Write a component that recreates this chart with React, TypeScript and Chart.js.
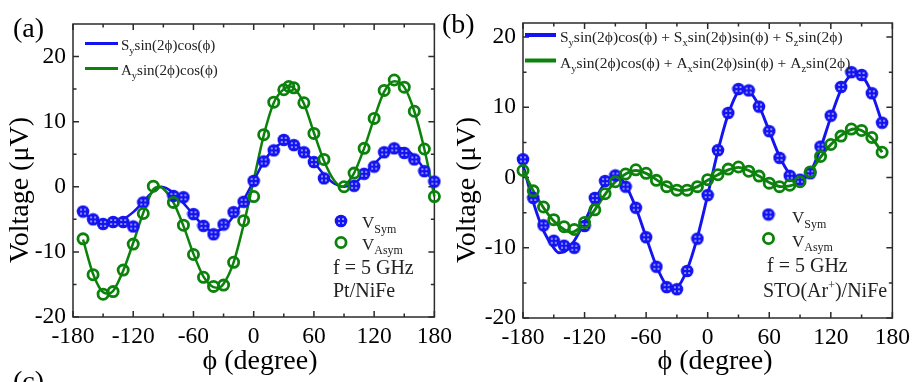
import React, { useEffect, useRef } from "react";
import { Chart, registerables } from "chart.js";
Chart.register(...registerables);

const FONT = "'Liberation Serif', 'DejaVu Serif', serif";
const BLUE = "#1414f0";
const GREEN = "#0c820c";
const FRAME = "#2b2b2b";

// ---- ticks ----
const xTicks = [-180, -120, -60, 0, 60, 120, 180];
const xMinorTicks = [-150, -90, -30, 30, 90, 150];
const yTicks = [-20, -10, 0, 10, 20];
const yMinorTicks = [-15, -5, 5, 15];

// ---- panel (a): Pt/NiFe ----
const aSymX = [-170, -160, -150, -140, -130, -120, -110, -80, -70, -60, -50, -40, -30, -20, -10, 0, 10, 20, 30, 40, 50, 60, 70, 100, 110, 120, 130, 140, 150, 160, 170, 180];
const aSymY = [-3.8, -5.0, -5.7, -5.4, -5.4, -6.1, -2.4, -1.4, -1.6, -4.2, -6.0, -7.3, -5.8, -3.9, -2.3, 0.9, 3.9, 5.6, 7.2, 6.4, 5.3, 3.8, 1.3, 0.15, 2.0, 3.1, 5.3, 5.9, 5.2, 4.2, 2.4, 0.8];
const aAsymX = [-170, -160, -150, -140, -130, -120, -110, -100, -80, -70, -60, -50, -40, -30, -20, -10, 0, 10, 20, 30, 35, 40, 50, 60, 70, 90, 100, 110, 120, 130, 140, 150, 160, 170, 180];
const aAsymY = [-8.0, -13.5, -16.5, -16.1, -12.8, -8.8, -4.1, 0.1, -2.4, -5.9, -10.4, -13.9, -15.3, -15.1, -11.6, -5.2, -1.5, 8.0, 13.0, 14.9, 15.4, 15.2, 12.9, 8.2, 4.2, 0.0, 2.1, 5.9, 10.5, 14.8, 16.4, 15.3, 11.6, 5.8, -1.5];
const aSymFitX = [-170, -160, -150, -140, -130, -120, -110, -100, -92, -80, -70, -60, -50, -40, -30, -20, -10, 0, 10, 20, 32, 40, 50, 60, 70, 80, 90, 100, 110, 120, 130, 142, 150, 160, 170, 180];
const aSymFitY = [-4.0, -5.0, -5.6, -5.6, -5.0, -3.9, -2.3, -0.7, 0.0, -0.9, -2.5, -4.3, -6.0, -6.9, -6.3, -4.5, -2.0, 0.9, 3.8, 5.8, 6.9, 6.6, 5.5, 3.8, 1.9, 0.5, 0.0, 0.5, 1.9, 3.5, 5.0, 5.95, 5.8, 4.7, 2.7, 0.6];
const aAsymFitX = [-170, -160, -150, -145, -140, -130, -120, -110, -100, -94, -90, -80, -70, -60, -50, -40, -35, -30, -20, -10, 0, 10, 20, 30, 37, 40, 50, 60, 70, 80, 88, 90, 100, 110, 120, 130, 140, 150, 160, 170, 180];
const aAsymFitY = [-8.1, -13.4, -16.2, -16.4, -16.0, -12.9, -8.6, -4.0, -0.4, 0.0, -0.3, -2.4, -6.0, -10.3, -13.8, -15.4, -15.5, -14.9, -11.6, -5.8, 1.0, 7.9, 12.9, 15.0, 15.4, 15.2, 12.8, 8.3, 4.0, 1.0, 0.0, 0.1, 2.1, 5.9, 10.5, 14.6, 16.2, 15.3, 11.6, 5.8, -1.5];

// ---- panel (b): STO(Ar+)/NiFe ----
const bSymX = [-180, -170, -160, -150, -140, -130, -120, -110, -100, -90, -80, -70, -60, -50, -40, -30, -20, -10, 0, 10, 20, 30, 40, 50, 60, 70, 80, 90, 100, 110, 120, 130, 140, 150, 160, 170];
const bSymY = [2.6, -2.9, -6.8, -9.0, -9.7, -10.0, -6.9, -2.9, -0.5, 0.3, -1.3, -4.3, -8.5, -12.7, -15.6, -15.9, -13.3, -8.7, -2.5, 3.9, 9.2, 12.6, 12.4, 10.1, 6.6, 2.8, 0.25, -0.3, 0.6, 4.4, 8.8, 12.9, 15.0, 14.6, 12.0, 7.8];
const bAsymX = [-180, -170, -160, -150, -140, -130, -120, -110, -100, -90, -80, -70, -60, -50, -40, -30, -20, -10, 0, 10, 20, 30, 40, 50, 60, 70, 80, 90, 100, 110, 120, 130, 140, 150, 160, 170];
const bAsymY = [1.0, -1.9, -4.2, -6.0, -7.0, -7.4, -6.4, -4.6, -2.3, -0.6, 0.5, 1.1, 0.6, -0.4, -1.3, -1.8, -1.8, -1.3, -0.3, 0.4, 1.2, 1.5, 0.9, 0.2, -0.8, -1.3, -1.1, -0.6, 0.8, 3.0, 4.7, 5.9, 6.9, 6.7, 5.7, 3.6];
const bSymFitX = [-180, -170, -160, -150, -145, -140, -130, -120, -110, -100, -90, -80, -70, -60, -50, -40, -35, -30, -20, -10, 0, 10, 20, 30, 35, 40, 50, 60, 70, 80, 90, 100, 110, 120, 130, 140, 145, 150, 160, 170];
const bSymFitY = [1.8, -3.5, -7.6, -10.0, -10.7, -10.6, -9.0, -6.3, -3.2, -0.8, 0.3, -1.1, -4.3, -8.5, -12.6, -15.4, -15.9, -15.7, -13.1, -8.5, -2.5, 3.8, 9.0, 12.3, 12.7, 12.4, 10.2, 6.6, 3.0, 0.5, -0.3, 0.8, 4.2, 8.6, 12.5, 14.7, 15.0, 14.6, 12.0, 7.8];
const bAsymFitX = [-180, -170, -160, -150, -140, -133, -130, -120, -110, -100, -90, -80, -70, -60, -50, -40, -25, -20, -10, 0, 10, 20, 30, 40, 50, 60, 72, 80, 90, 100, 110, 120, 130, 143, 150, 160, 170];
const bAsymFitY = [1.0, -1.9, -4.3, -6.2, -7.4, -7.8, -7.7, -6.6, -4.6, -2.4, -0.6, 0.5, 1.0, 0.6, -0.3, -1.2, -1.85, -1.8, -1.3, -0.4, 0.4, 1.1, 1.45, 1.0, 0.2, -0.7, -1.3, -1.2, -0.6, 0.8, 2.9, 4.7, 6.0, 6.9, 6.7, 5.6, 3.6];

type Seg = { t: string; k?: "sub" | "sup" };

const zip = (xs: number[], ys: number[]) => xs.map((x, i) => ({ x, y: ys[i] }));

function drawRich(ctx: CanvasRenderingContext2D, segs: Seg[], x: number, baseline: number, size: number, subSize?: number) {
  let cx = x;
  ctx.textBaseline = "alphabetic";
  ctx.textAlign = "left";
  for (const s of segs) {
    const fs = s.k ? subSize ?? size * 0.68 : size;
    ctx.font = `${fs}px ${FONT}`;
    const dy = s.k === "sub" ? size * 0.27 : s.k === "sup" ? -size * 0.4 : 0;
    ctx.fillText(s.t, cx, baseline + dy);
    cx += ctx.measureText(s.t).width;
  }
}

function makeBlueMarker(): HTMLCanvasElement {
  const c = document.createElement("canvas");
  c.width = 14;
  c.height = 14;
  const g = c.getContext("2d")!;
  g.fillStyle = BLUE;
  g.beginPath();
  g.arc(7, 7, 6.3, 0, Math.PI * 2);
  g.fill();
  g.fillStyle = "#ffffff";
  for (const [dx, dy] of [[-2, -2], [2, -2], [-2, 2], [2, 2]]) {
    g.beginPath();
    g.arc(7 + dx, 7 + dy, 0.85, 0, Math.PI * 2);
    g.fill();
  }
  return c;
}

interface Panel {
  width: number;
  left: number;
  yMax: number;
  padTop: number;
  padRight: number;
  yWidth: number;
  xHeight: number;
  symX: number[]; symY: number[];
  asymX: number[]; asymY: number[];
  symFitX: number[]; symFitY: number[];
  asymFitX: number[]; asymFitY: number[];
  fitW: number;
  labels: { t: string; x: number; y: number }[];
  yTitle: [number, number];
  xTitle: [number, number];
  legLineX: [number, number];
  legLineY: [number, number];
  legLineW: number;
  legTextX: number;
  legBase: [number, number];
  legSize: number;
  legSym: Seg[];
  legAsym: Seg[];
  mkX: number;
  mkY: [number, number];
  vX: number;
  vBase: [number, number];
  notes: { segs: Seg[]; x: number; b: number }[];
}

const phi = "\u03D5";

const panelA: Panel = {
  width: 458, left: 0, yMax: 25, padTop: 24, padRight: 21, yWidth: 73, xHeight: 65,
  symX: aSymX, symY: aSymY, asymX: aAsymX, asymY: aAsymY,
  symFitX: aSymFitX, symFitY: aSymFitY, asymFitX: aAsymFitX, asymFitY: aAsymFitY,
  fitW: 2.5,
  labels: [{ t: "(a)", x: 13, y: 37 }, { t: "(c)", x: 13, y: 390 }],
  yTitle: [21, 190],
  xTitle: [260, 362],
  legLineX: [85, 118], legLineY: [43.5, 68.5], legLineW: 2.8,
  legTextX: 121, legBase: [50, 75], legSize: 15,
  legSym: [{ t: "S" }, { t: "y", k: "sub" }, { t: `sin(2${phi})cos(${phi})` }],
  legAsym: [{ t: "A" }, { t: "y", k: "sub" }, { t: `sin(2${phi})cos(${phi})` }],
  mkX: 341, mkY: [221, 242.5], vX: 362, vBase: [228, 249.5],
  notes: [
    { segs: [{ t: "f = 5 GHz" }], x: 333, b: 274 },
    { segs: [{ t: "Pt/NiFe" }], x: 333, b: 297 },
  ],
};

const panelB: Panel = {
  width: 480, left: 436, yMax: 22, padTop: 23, padRight: 18, yWidth: 87, xHeight: 64,
  symX: bSymX, symY: bSymY, asymX: bAsymX, asymY: bAsymY,
  symFitX: bSymFitX, symFitY: bSymFitY, asymFitX: bAsymFitX, asymFitY: bAsymFitY,
  fitW: 2.9,
  labels: [{ t: "(b)", x: 6, y: 33 }],
  yTitle: [32, 190],
  xTitle: [279, 362],
  legLineX: [89, 120], legLineY: [35, 60.5], legLineW: 4,
  legTextX: 124, legBase: [42, 67.5], legSize: 15.5,
  legSym: [
    { t: "S" }, { t: "y", k: "sub" }, { t: `sin(2${phi})cos(${phi}) + S` }, { t: "x", k: "sub" },
    { t: `sin(2${phi})sin(${phi}) + S` }, { t: "z", k: "sub" }, { t: `sin(2${phi})` },
  ],
  legAsym: [
    { t: "A" }, { t: "y", k: "sub" }, { t: `sin(2${phi})cos(${phi}) + A` }, { t: "x", k: "sub" },
    { t: `sin(2${phi})sin(${phi}) + A` }, { t: "z", k: "sub" }, { t: `sin(2${phi})` },
  ],
  mkX: 332.5, mkY: [214.5, 238.5], vX: 356, vBase: [223, 246.5],
  notes: [
    { segs: [{ t: "f = 5 GHz" }], x: 331, b: 272 },
    { segs: [{ t: "STO(Ar" }, { t: "+", k: "sup" }, { t: ")/NiFe" }], x: 327, b: 297 },
  ],
};

function makeChart(canvas: HTMLCanvasElement, p: Panel, marker: HTMLCanvasElement) {
  const decor = {
    id: "decor",
    beforeDatasetsDraw(chart: any) {
      const { ctx, chartArea: a, scales } = chart;
      const xs = scales.x;
      const ys = scales.y;
      ctx.save();
      ctx.strokeStyle = FRAME;
      ctx.lineWidth = 1.5;
      ctx.strokeRect(a.left, a.top, a.right - a.left, a.bottom - a.top);
      ctx.beginPath();
      const xt = (vals: number[], len: number) => {
        for (const v of vals) {
          const px = xs.getPixelForValue(v);
          ctx.moveTo(px, a.bottom);
          ctx.lineTo(px, a.bottom - len);
          ctx.moveTo(px, a.top);
          ctx.lineTo(px, a.top + len);
        }
      };
      const yt = (vals: number[], len: number) => {
        for (const v of vals) {
          const py = ys.getPixelForValue(v);
          ctx.moveTo(a.left, py);
          ctx.lineTo(a.left + len, py);
          ctx.moveTo(a.right, py);
          ctx.lineTo(a.right - len, py);
        }
      };
      xt(xTicks, 6);
      xt(xMinorTicks, 3.5);
      yt(yTicks, 6);
      yt(yMinorTicks, 3.5);
      ctx.stroke();
      ctx.restore();
    },
    afterDraw(chart: any) {
      const ctx: CanvasRenderingContext2D = chart.ctx;
      ctx.save();
      ctx.fillStyle = "#000";
      ctx.font = `28px ${FONT}`;
      ctx.textBaseline = "alphabetic";
      ctx.textAlign = "left";
      for (const l of p.labels) ctx.fillText(l.t, l.x, l.y);
      ctx.font = `28px ${FONT}`;
      ctx.textAlign = "center";
      ctx.textBaseline = "middle";
      ctx.fillText(`${phi} (degree)`, p.xTitle[0], p.xTitle[1]);
      ctx.save();
      ctx.translate(p.yTitle[0], p.yTitle[1]);
      ctx.rotate(-Math.PI / 2);
      ctx.fillText("Voltage (\u03BCV)", 0, 0);
      ctx.restore();
      ctx.lineWidth = p.legLineW;
      ctx.strokeStyle = BLUE;
      ctx.beginPath();
      ctx.moveTo(p.legLineX[0], p.legLineY[0]);
      ctx.lineTo(p.legLineX[1], p.legLineY[0]);
      ctx.stroke();
      ctx.strokeStyle = GREEN;
      ctx.beginPath();
      ctx.moveTo(p.legLineX[0], p.legLineY[1]);
      ctx.lineTo(p.legLineX[1], p.legLineY[1]);
      ctx.stroke();
      ctx.fillStyle = "#222";
      drawRich(ctx, p.legSym, p.legTextX, p.legBase[0], p.legSize, 10.5);
      drawRich(ctx, p.legAsym, p.legTextX, p.legBase[1], p.legSize, 10.5);
      ctx.drawImage(marker, p.mkX - marker.width / 2, p.mkY[0] - marker.height / 2);
      ctx.strokeStyle = GREEN;
      ctx.lineWidth = 2.8;
      ctx.beginPath();
      ctx.arc(p.mkX, p.mkY[1], 5.1, 0, Math.PI * 2);
      ctx.stroke();
      ctx.fillStyle = "#222";
      drawRich(ctx, [{ t: "V" }, { t: "Sym", k: "sub" }], p.vX, p.vBase[0], 17, 12);
      drawRich(ctx, [{ t: "V" }, { t: "Asym", k: "sub" }], p.vX, p.vBase[1], 17, 12);
      for (const n of p.notes) drawRich(ctx, n.segs, n.x, n.b, 20, 12);
      ctx.restore();
    },
  };

  return new Chart(canvas, {
    type: "scatter",
    data: {
      datasets: [
        {
          label: "V_Asym",
          data: zip(p.asymX, p.asymY),
          showLine: false,
          pointStyle: "circle",
          pointRadius: 5.1,
          pointBorderWidth: 2.8,
          pointBorderColor: GREEN,
          pointBackgroundColor: "rgba(0,0,0,0)",
          clip: false,
          order: 0,
        } as any,
        {
          label: "V_Sym",
          data: zip(p.symX, p.symY),
          showLine: false,
          pointStyle: marker,
          pointRadius: 6.5,
          clip: false,
          order: 1,
        } as any,
        {
          label: "A fit",
          data: zip(p.asymFitX, p.asymFitY),
          showLine: true,
          borderColor: GREEN,
          borderWidth: p.fitW,
          pointRadius: 0,
          cubicInterpolationMode: "monotone",
          clip: false,
          order: 2,
        } as any,
        {
          label: "S fit",
          data: zip(p.symFitX, p.symFitY),
          showLine: true,
          borderColor: BLUE,
          borderWidth: p.fitW,
          pointRadius: 0,
          cubicInterpolationMode: "monotone",
          clip: false,
          order: 3,
        } as any,
      ],
    },
    options: {
      animation: false,
      responsive: false,
      devicePixelRatio: 1,
      events: [],
      layout: { padding: { left: 0, top: p.padTop, right: p.padRight, bottom: 0 } },
      plugins: { legend: { display: false }, tooltip: { enabled: false } },
      scales: {
        x: {
          type: "linear",
          min: -180,
          max: 180,
          afterBuildTicks: (s: any) => {
            s.ticks = xTicks.map((v) => ({ value: v }));
          },
          afterFit: (s: any) => {
            s.height = p.xHeight;
          },
          grid: { display: false, drawTicks: false },
          border: { display: false },
          ticks: {
            font: { family: FONT, size: 23.5 },
            color: "#000",
            padding: 6,
            maxRotation: 0,
            autoSkip: false,
            callback: (v: any) => String(v),
          },
        },
        y: {
          type: "linear",
          min: -20,
          max: p.yMax,
          afterBuildTicks: (s: any) => {
            s.ticks = yTicks.map((v) => ({ value: v }));
          },
          afterFit: (s: any) => {
            s.width = p.yWidth;
          },
          grid: { display: false, drawTicks: false },
          border: { display: false },
          ticks: {
            font: { family: FONT, size: 23.5 },
            color: "#000",
            padding: 7,
            autoSkip: false,
            callback: (v: any) => String(v),
          },
        },
      },
    },
    plugins: [decor],
  } as any);
}

export default function App() {
  const refA = useRef<HTMLCanvasElement>(null);
  const refB = useRef<HTMLCanvasElement>(null);
  useEffect(() => {
    const marker = makeBlueMarker();
    const ca = makeChart(refA.current!, panelA, marker);
    const cb = makeChart(refB.current!, panelB, marker);
    return () => {
      ca.destroy();
      cb.destroy();
    };
  }, []);
  return (
    <div style={{ position: "fixed", left: 0, top: 0, width: 916, height: 382, overflow: "hidden", background: "#fff" }}>
      <canvas ref={refA} width={panelA.width} height={382}
        style={{ position: "absolute", left: panelA.left, top: 0, width: panelA.width, height: 382 }} />
      <canvas ref={refB} width={panelB.width} height={382}
        style={{ position: "absolute", left: panelB.left, top: 0, width: panelB.width, height: 382 }} />
    </div>
  );
}
